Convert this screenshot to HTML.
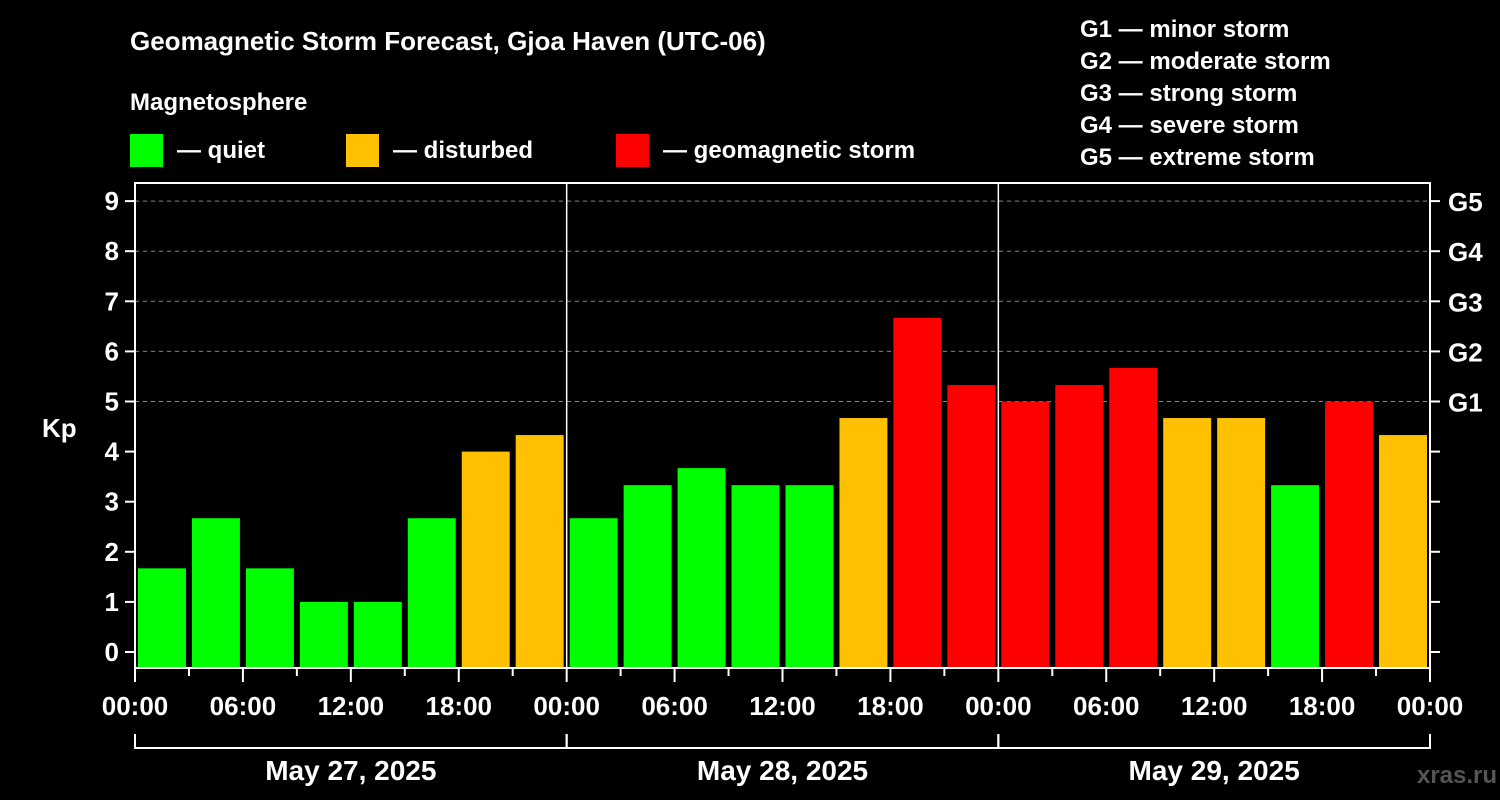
<!DOCTYPE html>
<html><head><meta charset="utf-8"><style>
html,body{margin:0;padding:0;background:#000;}
svg{display:block;font-family:"Liberation Sans",Arial,sans-serif;font-weight:bold;}
</style></head><body>
<svg id="chart" width="1500" height="800" viewBox="0 0 1500 800">
<rect x="0" y="0" width="1500" height="800" fill="#000"/>
<text x="130" y="50" fill="#fff" font-size="26">Geomagnetic Storm Forecast, Gjoa Haven (UTC-06)</text>
<text x="130" y="110" fill="#fff" font-size="24">Magnetosphere</text>
<g><rect x="130" y="134" width="33" height="33" fill="#00ff00"/><text x="177" y="158" fill="#fff" font-size="24">— quiet</text></g>
<g><rect x="346" y="134" width="33" height="33" fill="#ffc000"/><text x="393" y="158" fill="#fff" font-size="24">— disturbed</text></g>
<g><rect x="616" y="134" width="33" height="33" fill="#ff0000"/><text x="663" y="158" fill="#fff" font-size="24">— geomagnetic storm</text></g>
<g fill="#fff" font-size="24">
<text x="1080" y="37">G1 — minor storm</text>
<text x="1080" y="69">G2 — moderate storm</text>
<text x="1080" y="101">G3 — strong storm</text>
<text x="1080" y="133">G4 — severe storm</text>
<text x="1080" y="165">G5 — extreme storm</text>
</g>
<text x="42" y="437" fill="#fff" font-size="26">Kp</text>
<text x="1497" y="783" fill="#555" font-size="24" text-anchor="end">xras.ru</text>
<g id="grid"></g><g id="bars"></g><g id="axes"></g>
</svg>
<script>
const kpValues = [1.67,2.67,1.67,1,1,2.67,4,4.33, 2.67,3.33,3.67,3.33,3.33,4.67,6.67,5.33, 5,5.33,5.67,4.67,4.67,3.33,5,4.33];
const dayLabels = ["May 27, 2025","May 28, 2025","May 29, 2025"];
const hourLabels = ["00:00","06:00","12:00","18:00"];
const yTicks = [0,1,2,3,4,5,6,7,8,9];
const gLabels = ["G1","G2","G3","G4","G5"];
const NS="http://www.w3.org/2000/svg";
const L=135,R=1430,T=183,B=668;
const y0=652, unit=50.1;
const yScale=v=>y0-v*unit;
const slotW=(R-L)/kpValues.length;
const xScale=i=>L+i*slotW;
function mk(tag,attrs,parent){const e=document.createElementNS(NS,tag);for(const k in attrs)e.setAttribute(k,attrs[k]);parent.appendChild(e);return e;}
const grid=document.getElementById('grid'),bars=document.getElementById('bars'),axes=document.getElementById('axes');
yTicks.forEach(v=>{
  const y=yScale(v);
  if(v>=5){const g=mk('line',{x1:L,x2:R,y1:y,y2:y,stroke:'#888','stroke-dasharray':'4,4','stroke-width':1},grid);
  
  }
  const t=mk('line',{x1:L-10,x2:L,y1:y,y2:y,stroke:'#fff','stroke-width':2},axes);
  
  
  const t2=mk('line',{x1:R,x2:R+10,y1:y,y2:y,stroke:'#fff','stroke-width':2},axes);
  
  
  const lb=mk('text',{x:L-16,y:y+9,fill:'#fff','font-size':26,'text-anchor':'end'},axes);lb.textContent=v;
  
  
  if(v>=5){const g=mk('text',{x:R+18,y:y+10,fill:'#fff','font-size':26},axes);g.textContent=gLabels[v-5];
  
  }
});
kpValues.forEach((v,i)=>{
  const c=v>=5?'#ff0000':(v>=4?'#ffc000':'#00ff00');
  const r=mk('rect',{x:xScale(i)+3,y:yScale(v),width:slotW-6,height:B-yScale(v),fill:c},bars);
  
  
});
const box=mk('rect',{x:L,y:T,width:R-L,height:B-T,fill:'none',stroke:'#fff','stroke-width':2},axes);


const days=dayLabels.length, dayW=(R-L)/days;
for(let d=1;d<days;d++){const l=mk('line',{x1:L+d*dayW,x2:L+d*dayW,y1:T,y2:B,stroke:'#fff','stroke-width':1.5},axes);

}
for(let k=0;k<=days*8;k++){
  const x=L+k*slotW, major=k%2===0;
  const t=mk('line',{x1:x,x2:x,y1:B,y2:B+(major?14:8),stroke:'#fff','stroke-width':2},axes);
  
  
  if(major){const lb=mk('text',{x:x,y:B+47,fill:'#fff','font-size':26,'text-anchor':'middle'},axes);lb.textContent=hourLabels[(k/2)%4];
  
  }
}
dayLabels.forEach((d,i)=>{
  const x1=L+i*dayW,x2=x1+dayW;
  const p=mk('path',{d:`M${x1},734V748H${x2}V734`,fill:'none',stroke:'#fff','stroke-width':2},axes);
  
  
  const t=mk('text',{x:(x1+x2)/2,y:780,fill:'#fff','font-size':28,'text-anchor':'middle'},axes);t.textContent=d;
  
  
});
</script>
</body></html>
